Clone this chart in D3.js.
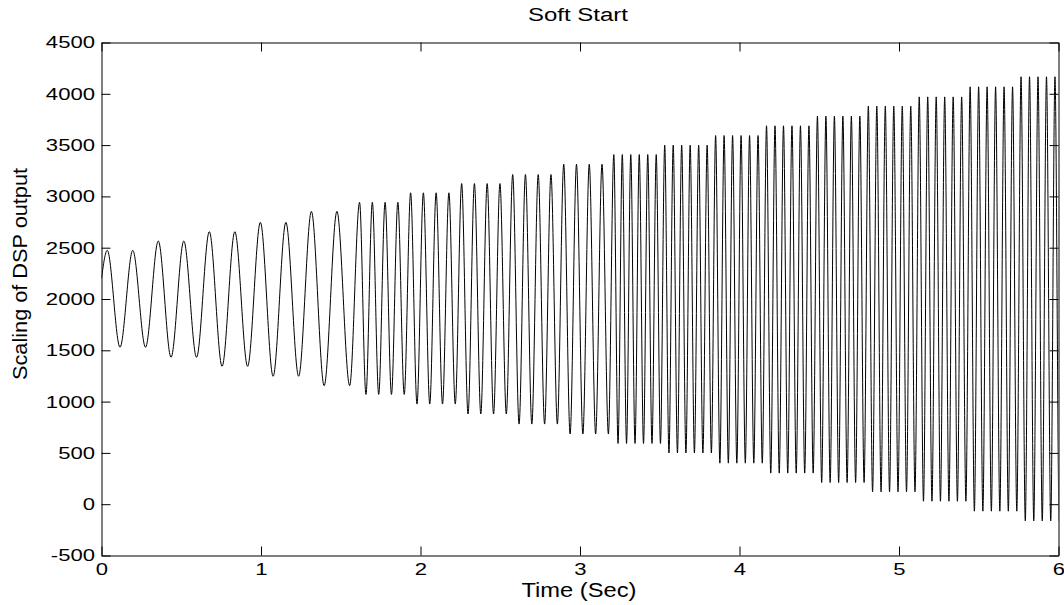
<!DOCTYPE html>
<html>
<head>
<meta charset="utf-8">
<script src="https://cdn.jsdelivr.net/npm/d3@7"></script>
<style>
  body { margin: 0; background: #fff; }
  svg { display: block; font-family: "Liberation Sans", Arial, sans-serif; }
</style>
</head>
<body>
<svg width="1064" height="605"></svg>
<script>
// Soft start waveform: amplitude is raised every 0.32 s, frequency in three stages

// step start times (s) and oscillation frequency during each step (Hz)
const stepStart = [0, 0.32, 0.64, 0.96, 1.28, 1.6, 1.92, 2.24, 2.56, 2.88,
                   3.2, 3.52, 3.84, 4.16, 4.48, 4.8, 5.12, 5.44, 5.76];
const stepFreq  = [6.25, 6.25, 6.25, 6.25, 6.25, 12.5, 12.5, 12.5, 12.5, 12.5,
                   18.8, 18.8, 18.8, 18.8, 18.8, 18.8, 18.8, 18.8, 18.8];
// peak and trough level reached in each step
const stepHigh  = [2474, 2565, 2656, 2747, 2854, 2942, 3035, 3125, 3213, 3313,
                   3408, 3499, 3593, 3688, 3782, 3880, 3970, 4068, 4166];
const stepLow   = [1530, 1432, 1344, 1247, 1155, 1070, 976, 879, 781, 684,
                   592, 500, 400, 303, 211, 120, 29, -68, -163];
const startValue = 2200;     // value at t = 0
const firstPeak = 0.036;     // time of first peak (s)
const endTime = 6;

const xTicks = [0, 1, 2, 3, 4, 5, 6];
const yTicks = [-500, 0, 500, 1000, 1500, 2000, 2500, 3000, 3500, 4000, 4500];

const svg = d3.select("svg");
const x = d3.scaleLinear().domain([0, 6]).range([101.5, 1058.5]);
const y = d3.scaleLinear().domain([-500, 4500]).range([555.5, 42.5]);

// build the list of peaks and troughs, step by step
const pts = [{t: 0, v: startValue}];
let phase = 0.25 - firstPeak * stepFreq[0];
stepStart.forEach((s, i) => {
  const e = i < stepStart.length - 1 ? stepStart[i + 1] : endTime + 0.1;
  const f = stepFreq[i];
  const p1 = phase + f * (e - s);
  let h = Math.ceil((phase - 0.25) * 2) / 2 + 0.25;
  for (; h < p1; h += 0.5) {
    const t = s + (h - phase) / f;
    if (t <= 0) continue;
    const isPeak = Math.abs((h - 0.25) - Math.round(h - 0.25)) < 1e-6;
    pts.push({t: t, v: isPeak ? stepHigh[i] : stepLow[i]});
  }
  phase = p1;
});

svg.append("clipPath").attr("id", "plot")
  .append("rect")
  .attr("x", x(0)).attr("y", y(4500))
  .attr("width", x(6) - x(0)).attr("height", y(-500) - y(4500));

const line = d3.line()
  .x(d => x(d.t))
  .y(d => y(d.v))
  .curve(d3.curveMonotoneX);

svg.append("path")
  .datum(pts)
  .attr("clip-path", "url(#plot)")
  .attr("fill", "none")
  .attr("stroke", "#000")
  .attr("stroke-width", 1)
  .attr("d", line);

// axes: ticks point inward on all four sides
const fmt = d => String(d);   // plain hyphen for negatives, like the original
svg.append("g").attr("transform", `translate(0,${y(-500)})`)
  .call(d3.axisBottom(x).tickValues(xTicks).tickFormat(fmt)
    .tickSizeInner(-9).tickSizeOuter(0).tickPadding(7.5));
svg.append("g").attr("transform", `translate(${x(0)},0)`)
  .call(d3.axisLeft(y).tickValues(yTicks).tickFormat(fmt)
    .tickSizeInner(-9).tickSizeOuter(0).tickPadding(5));
svg.append("g").attr("transform", `translate(0,${y(4500)})`)
  .call(d3.axisTop(x).tickValues(xTicks).tickFormat("")
    .tickSizeInner(-9).tickSizeOuter(0));
svg.append("g").attr("transform", `translate(${x(6)},0)`)
  .call(d3.axisRight(y).tickValues(yTicks).tickFormat("")
    .tickSizeInner(-9).tickSizeOuter(0));

svg.selectAll(".domain, .tick line").attr("stroke", "#000");
svg.selectAll(".tick text")
  .attr("fill", "#000")
  .attr("font-size", 17)
  .attr("font-family", "Liberation Sans, Arial, sans-serif")
  .attr("transform", "scale(1.3,1)");

// labels
svg.append("text")
  .attr("x", 578).attr("y", 21)
  .attr("text-anchor", "middle")
  .attr("font-size", 18)
  .attr("textLength", 100).attr("lengthAdjust", "spacingAndGlyphs")
  .text("Soft Start");

svg.append("text")
  .attr("x", 579).attr("y", 597)
  .attr("text-anchor", "middle")
  .attr("font-size", 20)
  .attr("textLength", 115).attr("lengthAdjust", "spacingAndGlyphs")
  .text("Time (Sec)");

svg.append("text")
  .attr("transform", "translate(27,274) rotate(-90)")
  .attr("text-anchor", "middle")
  .attr("font-size", 20)
  .attr("textLength", 212).attr("lengthAdjust", "spacingAndGlyphs")
  .text("Scaling of DSP output");
</script>
</body>
</html>
